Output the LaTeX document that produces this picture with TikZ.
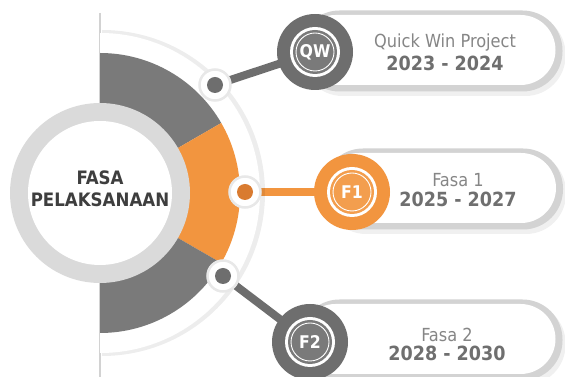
\documentclass[tikz,border=0pt]{standalone}
\usepackage{fontspec}
\setmainfont{DejaVu Sans Condensed}
\usepackage{xcolor}
\usetikzlibrary{positioning, calc, backgrounds}
\definecolor{darkgray}{HTML}{6E6E6E}
\definecolor{seggray}{HTML}{7A7A7A}
\definecolor{ringgray}{HTML}{DADADA}
\definecolor{pillgray}{HTML}{D3D3D3}
\definecolor{phaseorange}{HTML}{F2953F}
\definecolor{dotorange}{HTML}{D97B30}
\definecolor{textgray}{HTML}{868686}
\definecolor{yeargray}{HTML}{6F6F6F}
\definecolor{titlegray}{HTML}{3E3E3E}

\begin{document}
\begin{tikzpicture}[x=1pt, y=1pt,
    badge/.style={circle, fill=#1, minimum size=76pt, inner sep=0pt, text=white,
        font=\fontsize{17.5}{17.5}\selectfont\bfseries,
        path picture={
            \fill[white] (path picture bounding box.center) circle (25pt);
            \fill[#1!92!white] (path picture bounding box.center) circle (22pt);
            \draw[white, line width=0.9pt] (path picture bounding box.center) circle (19pt);}},
    dot/.style={circle, fill=white, draw=black!9, line width=2.5pt, minimum size=31pt, inner sep=0pt,
        path picture={\fill[#1] (path picture bounding box.center) circle (8pt);}},
    link/.style={draw=#1, line width=8pt},
    pill/.style={fill=pillgray, rounded corners=40pt, minimum height=81pt},
    pillin/.style={fill=white, rounded corners=35pt, minimum height=70pt},
    phase/.style={text=textgray, font=\fontsize{18}{18}\selectfont, inner sep=1pt},
    years/.style={text=yeargray, font=\fontsize{19.5}{19.5}\selectfont\bfseries, inner sep=1pt}]
\useasboundingbox (0,0) rectangle (565,377);

% half disc
\coordinate (c) at (100,184);
\draw[gray!35, line width=1.5pt] (100,364) -- (100,0);
\fill[black, opacity=0.07] ($(c)+(2,163)$) arc (90:-90:163) -- cycle;
\fill[white] ($(c)+(0,160)$) arc (90:-90:160) -- cycle;
\fill[seggray] (c) -- ($(c)+(90:140)$) arc (90:30:140) -- cycle;
\fill[phaseorange] (c) -- ($(c)+(30:140)$) arc (30:-30:140) -- cycle;
\fill[seggray] (c) -- ($(c)+(-30:140)$) arc (-30:-90:140) -- cycle;

% centre ring
\fill[ringgray] (c) circle (90);
\fill[white] (c) circle (72);
\node[text=titlegray, font=\fontsize{18.5}{22.5}\selectfont\bfseries, align=center] (title) at (100,188) {FASA\\PELAKSANAAN};

% pills
\foreach \name/\x/\y/\w in {qw/431/326/263, fone/443/188/240, ftwo/431/37/263} {
    \fill[black, opacity=0.06, rounded corners=40pt] (\x+3-\w/2,\y-45) rectangle (\x+3+\w/2,\y+37);
    \node[pill, minimum width=\w] (pill\name) at (\x,\y) {};
    \node[pillin, minimum width=\w-8] (in\name) at (\x-3,\y+1) {};
}

% text
\node[phase] (tqw) at (445,334) {Quick Win Project};
\node[years, below=2pt of tqw] (yqw) {2023 - 2024};
\node[phase] (tfone) at (458,197) {Fasa 1};
\node[years, below=3pt of tfone] (yfone) {2025 - 2027};
\node[phase] (tftwo) at (447,42) {Fasa 2};
\node[years, below=2pt of tftwo] (yftwo) {2028 - 2030};

% dots and badges
\node[dot=darkgray] (dqw) at (215,292) {};
\node[dot=dotorange] (dfone) at (245,185) {};
\node[dot=darkgray] (dftwo) at (223,101) {};
\node[badge=darkgray] (qw) at (315,325) {QW};
\node[badge=phaseorange] (fone) at (352,185) {F1};
\node[badge=darkgray] (ftwo) at (310,35) {F2};

\begin{scope}[on background layer]
\draw[link=darkgray] (dqw.center) -- (qw.center);
\draw[link=phaseorange] (dfone.center) -- (fone.center);
\draw[link=darkgray] (dftwo.center) -- (ftwo.center);
\end{scope}
\end{tikzpicture}
\end{document}
